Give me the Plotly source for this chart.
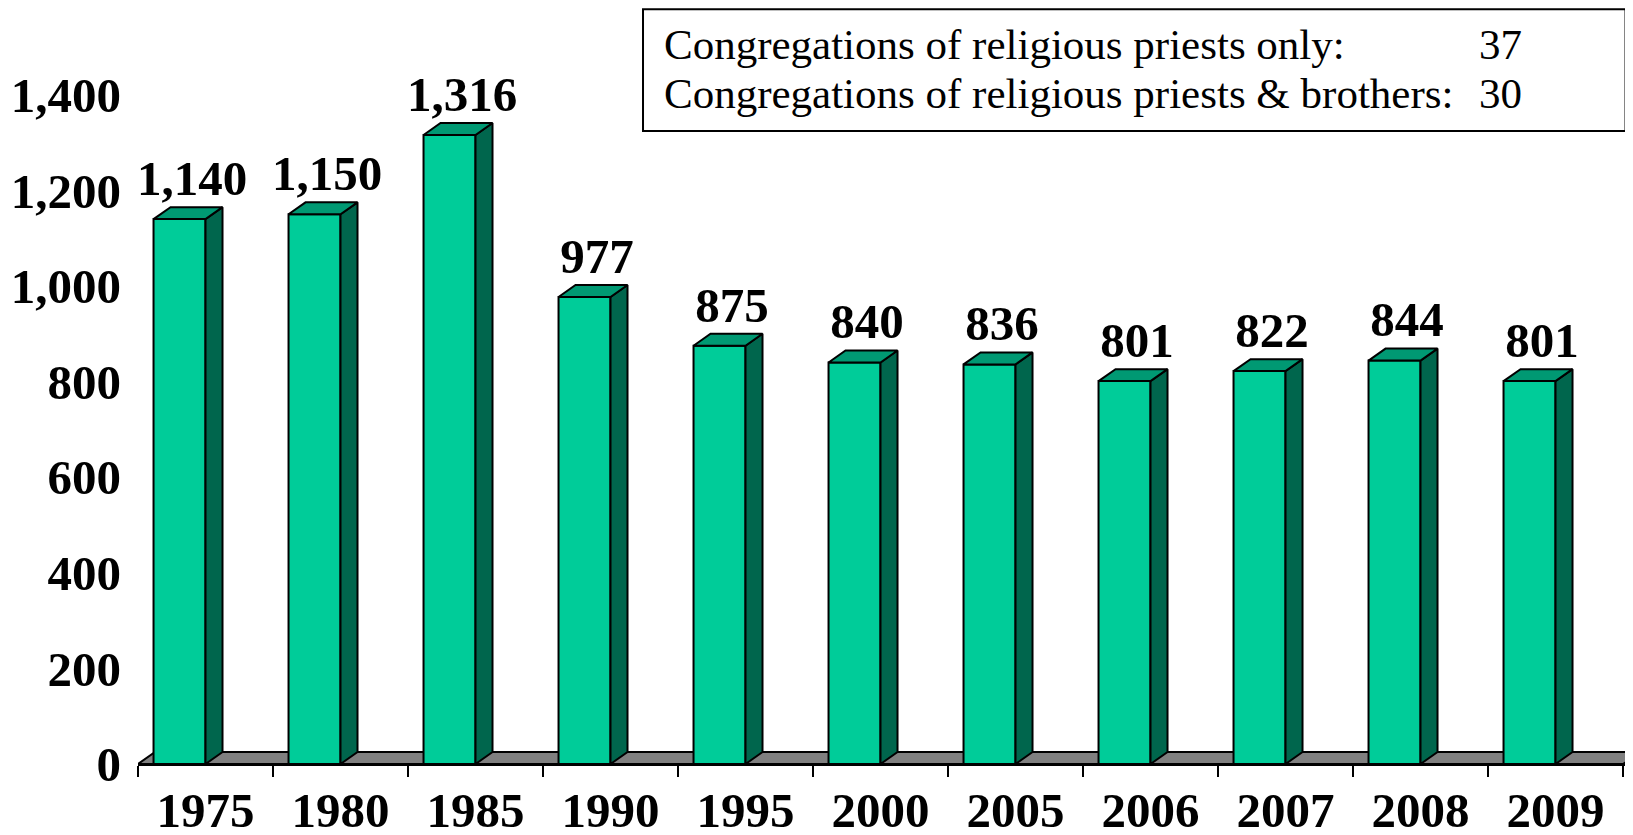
import plotly.graph_objects as go

# --- data ---
years = ["1975", "1980", "1985", "1990", "1995", "2000", "2005", "2006", "2007", "2008", "2009"]
priests = [1140, 1150, 1316, 977, 875, 840, 836, 801, 822, 844, 801]
y_ticks = [0, 200, 400, 600, 800, 1000, 1200, 1400]
box_labels = ["Congregations of religious priests only:",
              "Congregations of religious priests & brothers:"]
box_counts = [37, 30]

# --- fake-3D geometry (category units / value units) ---
BAR_W = 0.385      # front face width
DEPTH_X = 0.126    # depth offset to the right
DEPTH_Y = 25       # depth offset upward, in value units
FRONT = "#00CC99"
TOP = "#009973"
SIDE = "#00664D"
FONT = "Liberation Serif, Times New Roman, serif"
BIG = 49

idx = list(range(len(years)))

side_x, side_y, top_x, top_y = [], [], [], []
for i, v in zip(idx, priests):
    side_x += [i, i + DEPTH_X, i + DEPTH_X, i, i, None]
    side_y += [0, DEPTH_Y, v + DEPTH_Y, v, 0, None]
    top_x += [i - BAR_W, i, i + DEPTH_X, i - BAR_W + DEPTH_X, i - BAR_W, None]
    top_y += [v, v, v + DEPTH_Y, v + DEPTH_Y, v, None]

fig = go.Figure()
fig.add_trace(go.Bar(
    x=idx, y=priests, width=BAR_W, offset=-BAR_W,
    marker=dict(color=FRONT, line=dict(color="black", width=2)),
    hoverinfo="skip",
))
fig.add_trace(go.Scatter(
    x=side_x, y=side_y, mode="lines", fill="toself", fillcolor=SIDE,
    line=dict(color="black", width=2), hoverinfo="skip",
))
fig.add_trace(go.Scatter(
    x=top_x, y=top_y, mode="lines", fill="toself", fillcolor=TOP,
    line=dict(color="black", width=2), hoverinfo="skip",
))
# value labels above each bar
fig.add_trace(go.Scatter(
    x=[i - 0.1 for i in idx], y=[v + DEPTH_Y for v in priests],
    mode="text", text=[f"{v:,}" for v in priests], textposition="top center",
    textfont=dict(family=FONT, size=BIG, color="black", weight="bold"),
    cliponaxis=False, hoverinfo="skip",
))

# grey floor under the bars
n = len(years)
fig.add_shape(
    type="path", xref="x", yref="y", layer="below",
    path=(f"M {-0.5},0 L {n - 0.5},0 L {n - 0.5 + DEPTH_X},{DEPTH_Y} "
          f"L {-0.5 + DEPTH_X},{DEPTH_Y} Z"),
    fillcolor="#808080", line=dict(color="black", width=2),
)

# info box, top right
fig.add_shape(type="rect", xref="paper", yref="paper",
              x0=0.3378, x1=0.995, y0=0.8828, y1=1.0525,
              line=dict(color="black", width=2), fillcolor="white", layer="above")
for row, (lab, cnt) in enumerate(zip(box_labels, box_counts)):
    ypos = 1.0028 - row * 0.068
    fig.add_annotation(text=lab, xref="paper", yref="paper", x=0.3505, y=ypos,
                       xanchor="left", yanchor="middle", showarrow=False,
                       font=dict(family=FONT, size=43, color="black"))
    fig.add_annotation(text=str(cnt), xref="paper", yref="paper", x=0.8955, y=ypos,
                       xanchor="left", yanchor="middle", showarrow=False,
                       font=dict(family=FONT, size=43, color="black"))

# the page body keeps its default 8px margin, so the figure is 8px smaller
# than the window and everything is offset to line up with the screenshot
fig.update_layout(
    width=1625, height=827,
    margin=dict(l=130, r=0, t=39, b=71, autoexpand=False),
    plot_bgcolor="white", paper_bgcolor="white",
    showlegend=False,
    xaxis=dict(
        range=[-0.5, 10.574], tickvals=idx, ticktext=years,
        showline=True, linecolor="black", linewidth=2,
        ticks="", showgrid=False, zeroline=False, automargin=False,
        tickfont=dict(family=FONT, size=BIG, color="black", weight="bold"),
        ticklabelstandoff=2,
        minor=dict(tickvals=[i - 0.5 for i in range(n + 1)], ticks="outside",
                   ticklen=11, tickwidth=2, tickcolor="black", showgrid=False),
    ),
    yaxis=dict(
        range=[0, 1500], tickvals=y_ticks, tickformat=",",
        showline=False, showgrid=False, zeroline=False, ticks="", automargin=False,
        tickfont=dict(family=FONT, size=BIG, color="black", weight="bold"),
        ticklabelstandoff=16,
    ),
)

fig.write_html("out.html")
